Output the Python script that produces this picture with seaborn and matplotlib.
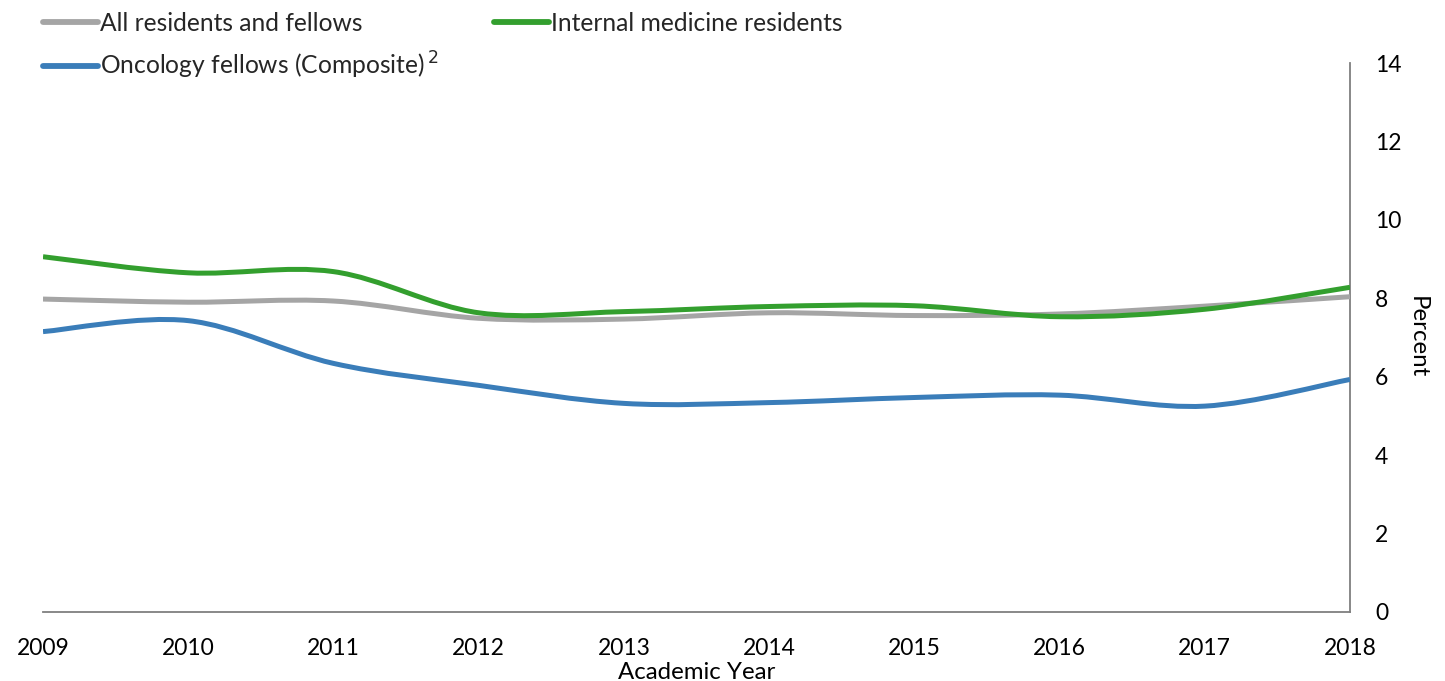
import numpy as np
import pandas as pd
import matplotlib
matplotlib.use("Agg")
import matplotlib.pyplot as plt
from matplotlib.path import Path
from matplotlib.patches import PathPatch
from matplotlib.lines import Line2D
import seaborn as sns

years = [2009, 2010, 2011, 2012, 2013, 2014, 2015, 2016, 2017, 2018]
all_residents = [7.98, 7.90, 7.93, 7.49, 7.47, 7.63, 7.56, 7.60, 7.80, 8.04]
internal_medicine = [9.06, 8.65, 8.68, 7.63, 7.66, 7.79, 7.81, 7.53, 7.72, 8.28]
oncology = [7.15, 7.43, 6.34, 5.78, 5.32, 5.34, 5.47, 5.53, 5.25, 5.93]

series_names = ["All residents and fellows", "Internal medicine residents",
                "Oncology fellows (Composite)"]
legend_labels = ["All residents and fellows", "Internal medicine residents",
                 "Oncology fellows (Composite)$^{\\,2}$"]
colors = ["#A5A5A5", "#339F2E", "#3A7DB9"]
y_ticks = [0, 2, 4, 6, 8, 10, 12, 14]

df = pd.DataFrame({
    "year": years * 3,
    "value": all_residents + internal_medicine + oncology,
    "series": sum([[n] * len(years) for n in series_names], []),
})

sns.set_theme(style="white")
plt.rcParams["font.family"] = ["Lato", "DejaVu Sans"]
FS = 16.5
FS_LAB = 17.3
FS_LEG = 17.7

fig = plt.figure(figsize=(14.45, 6.81), dpi=100)
ax = fig.add_axes([43 / 1445, 69 / 681, (1350 - 43) / 1445, (612 - 63) / 681])

sns.lineplot(data=df, x="year", y="value", hue="series", palette=colors,
             hue_order=series_names, ax=ax, legend=False, linewidth=3.6)

# replace straight segments with smooth (Excel-like) Bezier curves through the same points
def smooth_path(xs, ys):
    pts = np.column_stack([xs, ys]).astype(float)
    n = len(pts)
    verts = [pts[0]]
    codes = [Path.MOVETO]
    for i in range(n - 1):
        p0 = pts[i - 1] if i > 0 else pts[i]
        p1 = pts[i]
        p2 = pts[i + 1]
        p3 = pts[i + 2] if i + 2 < n else pts[i + 1]
        c1 = p1 + (p2 - p0) / 6.0
        c2 = p2 - (p3 - p1) / 6.0
        verts += [c1, c2, p2]
        codes += [Path.CURVE4] * 3
    return Path(verts, codes)

for line, name, col in zip(ax.get_lines(), series_names, colors):
    line.set_visible(False)
    sub = df[df["series"] == name]
    patch = PathPatch(smooth_path(sub["year"].values, sub["value"].values),
                      facecolor="none", edgecolor=col, linewidth=3.6,
                      capstyle="butt", zorder=3)
    ax.add_patch(patch)

ax.set_xlim(years[0], years[-1])
ax.set_ylim(0, 14)
ax.set_xticks(years)
ax.set_xticklabels([str(y) for y in years], fontsize=FS, color="black")
ax.yaxis.tick_right()
ax.yaxis.set_label_position("right")
ax.set_yticks(y_ticks)
ax.set_yticklabels([str(t) for t in y_ticks], fontsize=FS, color="black")
ax.tick_params(axis="both", length=0)
ax.tick_params(axis="x", pad=19)
ax.tick_params(axis="y", pad=18)
ax.set_xlabel("Academic Year", fontsize=FS_LAB, color="black", labelpad=2)
ax.set_ylabel("Percent", fontsize=FS_LAB, color="black", rotation=270, labelpad=19)

for s in ["top", "left"]:
    ax.spines[s].set_visible(False)
for s in ["bottom", "right"]:
    ax.spines[s].set_visible(True)
    ax.spines[s].set_color("#7F7F7F")
    ax.spines[s].set_linewidth(1.3)

handles = [Line2D([], [], color=c, linewidth=4.2) for c in colors]
order = [0, 2, 1]
leg = fig.legend([handles[i] for i in order], [legend_labels[i] for i in order],
                 loc="upper left", bbox_to_anchor=(33 / 1445, 1 - 2 / 681),
                 ncol=2, frameon=False, fontsize=FS_LEG, handlelength=2.25,
                 handletextpad=0.08, columnspacing=2.25, labelspacing=0.6,
                 borderaxespad=0)

fig.savefig("out.png", dpi=100)
